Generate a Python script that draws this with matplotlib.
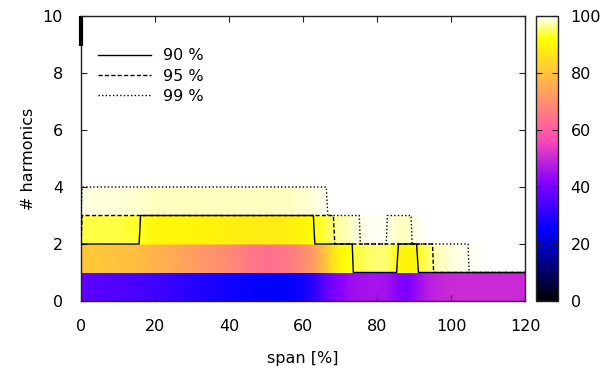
import numpy as np
import matplotlib
matplotlib.use("Agg")
import matplotlib.pyplot as plt
from matplotlib.colors import ListedColormap, Normalize
from matplotlib.cm import ScalarMappable

# ---------------- data ----------------
span = [0, 5, 10, 15, 20, 25, 30, 35, 40, 45, 50, 55, 60, 63, 66, 68, 70, 72,
        74, 78, 82, 84, 86, 88, 90, 92, 94, 96, 100, 105, 110, 115, 120]

# cumulative energy share [%] per harmonic row (row k spans y = k .. k+1)
row0 = [37, 36, 35, 34, 33, 31.5, 30, 28.5, 27, 26, 25, 25, 27, 31, 37, 40, 42, 44,
        45, 46, 45.5, 44, 42, 41, 43, 46, 48, 49, 50, 50, 50, 50, 50]
row1 = [81, 80.5, 80, 79, 77, 75, 73, 71, 69, 66, 64, 65, 69, 73, 80, 86, 90, 92,
        93.5, 95, 95.5, 94, 90.5, 89.5, 90, 93.5, 95, 97.5, 98.5, 99.3, 99.7, 99.8, 99.8]
row2 = [94, 94, 94, 93, 90.5, 90, 90, 89.5, 89, 88.5, 88, 88.5, 90, 92, 94, 95.5, 97, 97.5,
        98.5, 99.6, 99.3, 98.5, 97.8, 97.8, 99, 99.6, 99.7, 99.8, 99.9, 99.9, 99.9, 99.9, 99.9]
row3 = [99, 98.8, 98.5, 98.2, 98, 97.8, 97.8, 97.8, 97.8, 97.8, 97.8, 98, 98.3, 98.8, 99.5, 99.7, 99.8, 99.8,
        99.9, 99.9, 99.9, 99.9, 99.9, 99.9, 99.9, 99.9, 99.9, 99.9, 99.9, 99.9, 99.9, 99.9, 99.9]
row4 = [99.7] * 15 + [99.9] * 18
row_rest = [99.95] * 33
rows = [row0, row1, row2, row3, row4, row_rest, row_rest, row_rest, row_rest, row_rest]

# number of harmonics needed for 90 / 95 / 99 % (step lines)
h90_x = [0, 15.7, 16.1, 62.8, 63.2, 73.3, 73.6, 85.3, 85.8, 90.7, 91.2, 120]
h90_y = [2, 2, 3, 3, 2, 2, 1, 1, 2, 2, 1, 1]
h95_x = [0, 0.3, 68.2, 68.6, 95.0, 95.3, 120]
h95_y = [2, 3, 3, 2, 2, 1, 1]
h99_x = [0, 0.3, 66.3, 66.7, 75.2, 75.5, 82.5, 82.8, 89.2, 89.5, 104.6, 104.9, 120]
h99_y = [3, 4, 4, 3, 3, 2, 2, 3, 3, 2, 2, 1, 1]

legend_labels = ["90 %", "95 %", "99 %"]
xticks = [0, 20, 40, 60, 80, 100, 120]
yticks = [0, 2, 4, 6, 8, 10]
cticks = [0, 20, 40, 60, 80, 100]

# ---------------- palette (gnuplot rgbformulae 30,31,32) ----------------
t = np.linspace(0, 1, 256)
r = np.clip(t / 0.32 - 0.78125, 0, 1)
g = np.clip(2 * t - 0.84, 0, 1)
b = np.where(t < 0.25, 4 * t,
             np.where(t < 0.42, 1.0,
                      np.where(t < 0.92, -2 * t + 1.84, t / 0.08 - 11.5)))
b = np.clip(b, 0, 1)
cmap = ListedColormap(np.column_stack([r, g, b]))
norm = Normalize(0, 100)

plt.rcParams['font.family'] = ['DejaVu Sans']
FS = 11.5

fig = plt.figure(figsize=(6.08, 3.69), dpi=100)
ax = fig.add_axes([81 / 608, 1 - 301 / 369, 444 / 608, 285 / 369])
cax = fig.add_axes([536 / 608, 1 - 301 / 369, 22 / 608, 285 / 369])

xs = np.array(span, dtype=float)
for k, vals in enumerate(rows):
    X = np.vstack([xs, xs])
    Y = np.vstack([np.full_like(xs, k), np.full_like(xs, k + 1)])
    C = np.vstack([vals, vals])
    ax.pcolormesh(X, Y, C, shading='gouraud', cmap=cmap, norm=norm, zorder=1)

l90, = ax.plot(h90_x, h90_y, color='black', lw=1.0, zorder=3)
l95, = ax.plot(h95_x, h95_y, color='black', lw=1.0, dashes=(3.0, 1.6), zorder=3)
l99, = ax.plot(h99_x, h99_y, color='black', lw=1.0, dashes=(1.0, 1.6), zorder=3)
ax.plot([0, 0], [8.95, 10], color='black', lw=3, solid_capstyle='butt',
        clip_on=False, zorder=4)

ax.set_xlim(0, 120)
ax.set_ylim(0, 10)
ax.set_xticks(xticks)
ax.set_yticks(yticks)
ax.tick_params(direction='in', top=True, right=True, length=4.5, width=0.8,
               labelsize=FS, pad=13, color='#222222')
for s in ax.spines.values():
    s.set_color('#222222')
    s.set_linewidth(1.0)
ax.set_xlabel('span [%]', fontsize=FS, labelpad=12)
ax.set_ylabel('# harmonics', fontsize=FS, labelpad=5)

ax.legend([l90, l95, l99], legend_labels, loc='upper left',
          bbox_to_anchor=(0.038, 0.887), frameon=False, borderpad=0,
          borderaxespad=0, handlelength=3.3, handletextpad=0.75,
          labelspacing=0.34, fontsize=FS)

sm = ScalarMappable(norm=norm, cmap=cmap)
cb = fig.colorbar(sm, cax=cax)
cb.set_ticks(cticks)
cax.tick_params(direction='in', left=True, right=True, length=4.5, width=0.8,
                labelsize=FS, pad=9, color='#222222')
cb.outline.set_edgecolor('#222222')
cb.outline.set_linewidth(1.0)

fig.savefig('out.png', dpi=100)
